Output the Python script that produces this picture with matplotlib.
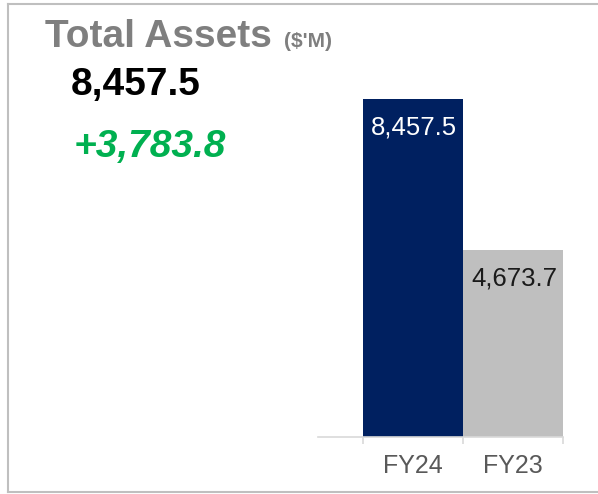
import matplotlib
matplotlib.use("Agg")
from matplotlib import pyplot as plt
from matplotlib.lines import Line2D

# data
categories = ["FY24", "FY23"]
values = [8457.5, 4673.7]
bar_labels = ["8,457.5", "4,673.7"]
headline = "8,457.5"
change = "+3,783.8"

bar_colors = ["#002060", "#bfbfbf"]
label_colors = ["#ffffff", "#1a1a1a"]

plt.rcParams['font.family'] = ['Liberation Sans', 'DejaVu Sans']

W, H = 598, 494
fig = plt.figure(figsize=(W / 100, H / 100), dpi=100)

# outer frame (top, left, bottom)
frame = "#bfbfbf"
fig.add_artist(Line2D([8 / W, 597 / W], [1 - 4 / H, 1 - 4 / H], color=frame, lw=1.5, transform=fig.transFigure))
fig.add_artist(Line2D([8 / W, 8 / W], [1 - 4 / H, 1 - 492 / H], color=frame, lw=1.5, transform=fig.transFigure))
fig.add_artist(Line2D([8 / W, 597 / W], [1 - 492 / H, 1 - 492 / H], color=frame, lw=1.5, transform=fig.transFigure))

# header text
fig.text(45 / W, 1 - 47 / H, "Total Assets", fontsize=28, fontweight="bold", color="#7f7f7f")
fig.text(284 / W, 1 - 47 / H, "($'M)", fontsize=15, fontweight="bold", color="#7f7f7f")
fig.text(71 / W, 1 - 95 / H, headline, fontsize=28, fontweight="bold", color="black")
fig.text(74 / W, 1 - 157 / H, change, fontsize=28, fontweight="bold", style="italic", color="#00b050")

# bar axes: baseline at y=437px, x from 318 to 563
ymax = 10000
ax_h = ymax * 338 / 8457.5
ax = fig.add_axes([318 / W, 57 / H, 245 / W, ax_h / H])
x = list(range(len(categories)))
bars = ax.bar(x, values, width=1.0, color=bar_colors)
ax.set_xlim(-0.95, 1.5)
ax.set_ylim(0, ymax)

for b, lab, c in zip(bars, bar_labels, label_colors):
    ax.annotate(lab, (b.get_x() + b.get_width() / 2, b.get_height()),
                xytext=(1, -35 * 0.72), textcoords="offset points",
                ha="center", va="baseline", fontsize=18.5, color=c)

for s in ["top", "right", "left"]:
    ax.spines[s].set_visible(False)
ax.spines["bottom"].set_color("#d9d9d9")
ax.spines["bottom"].set_linewidth(1.2)
ax.set_yticks([])
ax.set_xticks([-0.5, 0.5, 1.5])
ax.set_xticklabels([])
ax.tick_params(axis="x", length=5, color="#d9d9d9", width=1.2)
for xi, cat in zip(x, categories):
    ax.text(xi, -36 / ax_h * ymax, cat, ha="center", va="baseline", fontsize=18, color="#595959")

fig.savefig("out.png", dpi=100)
